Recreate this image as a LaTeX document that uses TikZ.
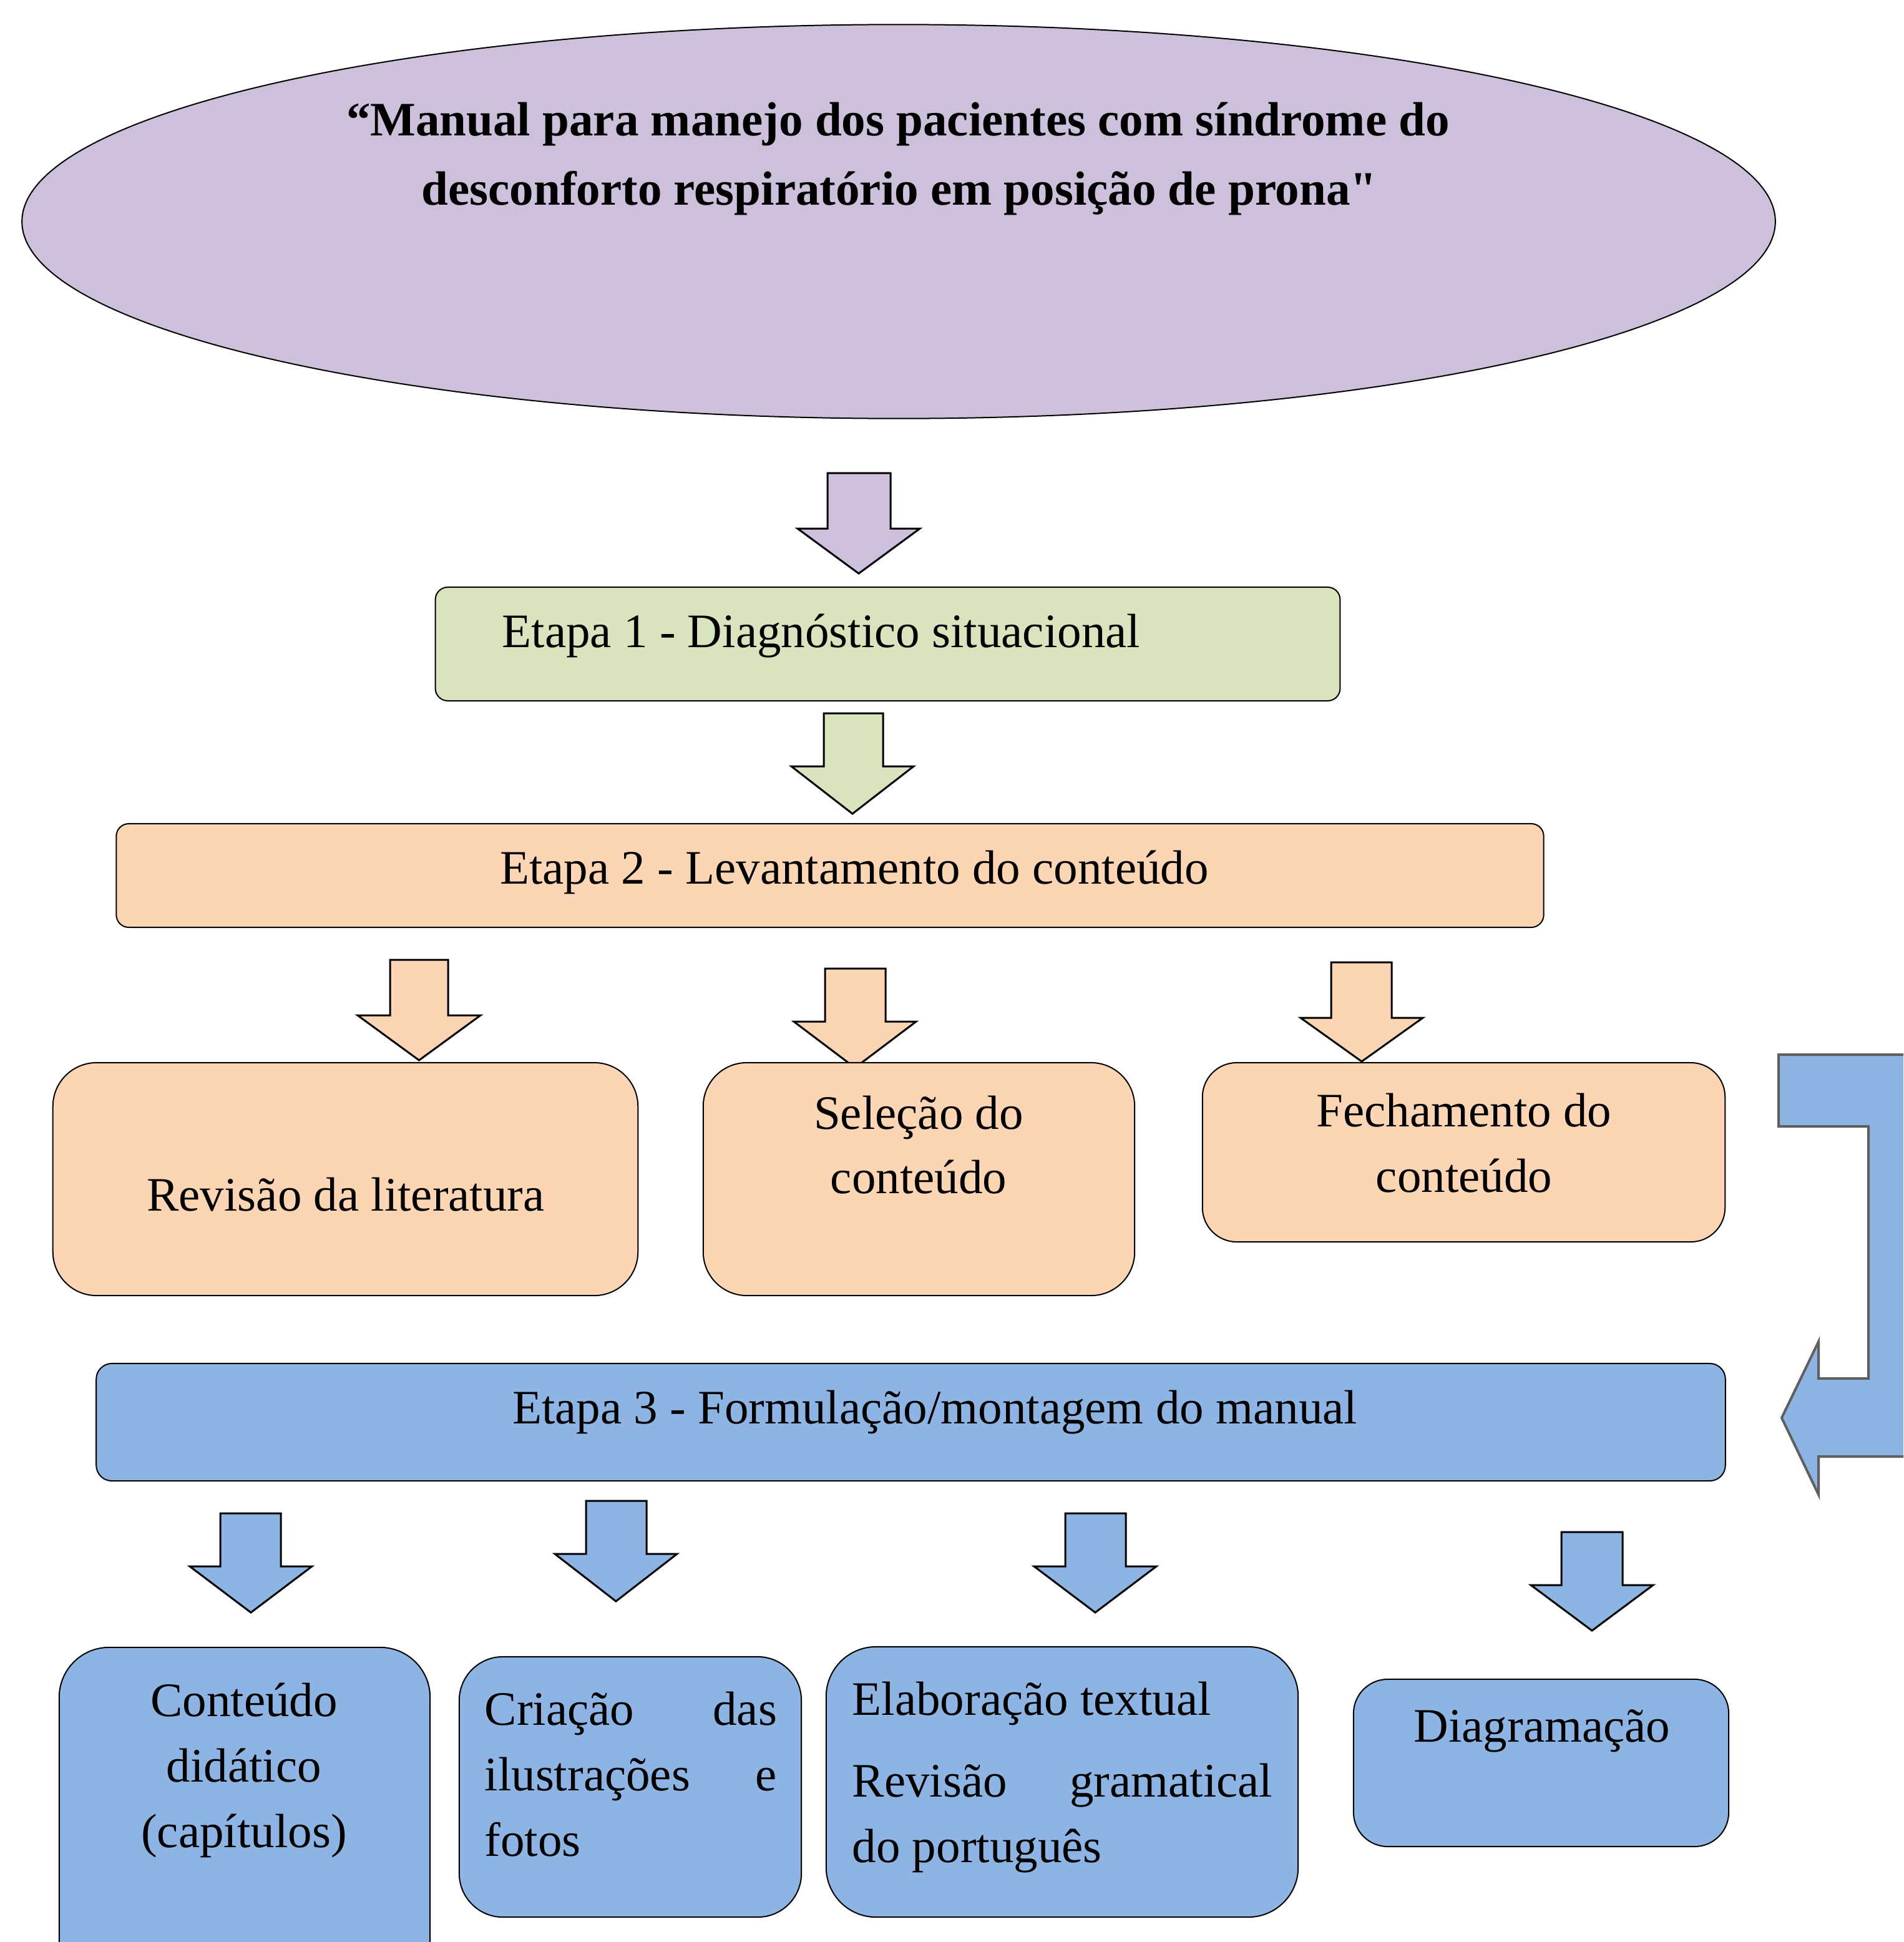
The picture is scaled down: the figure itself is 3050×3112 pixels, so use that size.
\documentclass[tikz,border=0pt]{standalone}
\usepackage{fontspec}
\setmainfont{Liberation Serif}
\usetikzlibrary{shapes.geometric}
\definecolor{purp}{HTML}{CCC0DA}
\definecolor{grn}{HTML}{D7E4BD}
\definecolor{peach}{HTML}{FCD5B5}
\definecolor{blu}{HTML}{8EB4E3}
\definecolor{grayline}{HTML}{5F5F5F}
\newcommand\DArrow[8]{\draw[arrowline, fill=#1] (#4,#6) -- (#5,#6) -- (#5,#7) -- (#3,#7) -- ({(#2+#3)/2},#8) -- (#2,#7) -- (#4,#7) -- cycle;}
\newcommand\straightdq{{\XeTeXglyph\XeTeXcharglyph"22\relax}}
\begin{document}
\begin{tikzpicture}[x=0.01cm,y=-0.01cm,
  box/.style={draw=black, line width=0.02cm, inner sep=0pt},
  arrowline/.style={draw=black, line width=0.03cm, line join=miter},
  txt/.style={inner sep=0pt, font=\fontsize{21.9pt}{29.9pt}\selectfont},
  ttl/.style={inner sep=0pt, font=\fontsize{21.9pt}{29.9pt}\selectfont\bfseries}]
\useasboundingbox (0,0) rectangle (3050,3112);
\clip (0,0) rectangle (3050,3112);
\fill[white] (0,0) rectangle (3050,3112);

% title ellipse
\node[ellipse, box, fill=purp, minimum width=28.08cm, minimum height=6.31cm] (title) at (1440,355) {};
\node[ttl, anchor=base] (t1) at (1439,218) {“Manual para manejo dos pacientes com síndrome do};
\node[ttl, anchor=base] (t2) at (1441,328) {desconforto respiratório em posição de prona\straightdq};

\DArrow{purp}{1278}{1474}{1326}{1427}{758}{847}{919}

% Etapa 1
\node[box, fill=grn, rounded corners=0.2cm, minimum width=14.49cm, minimum height=1.82cm] (e1) at (1422.5,1032) {};
\node[txt, anchor=base west] (e1t) at (804,1037) {Etapa 1 - Diagnóstico situacional};

\DArrow{grn}{1268}{1464}{1320}{1415}{1143}{1228}{1304}

% Etapa 2
\node[box, fill=peach, rounded corners=0.2cm, minimum width=22.86cm, minimum height=1.66cm] (e2) at (1330,1403) {};
\node[txt, anchor=base] (e2t) at (1369,1416) {Etapa 2 - Levantamento do conteúdo};

\DArrow{peach}{573}{770}{625}{718}{1538}{1627}{1699}
\DArrow{peach}{1272}{1468}{1322}{1419}{1552}{1637}{1711}
\DArrow{peach}{2084}{2280}{2133}{2230}{1542}{1631}{1701}

\node[box, fill=peach, rounded corners=0.7cm, minimum width=9.37cm, minimum height=3.73cm] (rev) at (553.5,1889.5) {};
\node[txt, anchor=base] (revt) at (554,1940) {Revisão da literatura};

\node[box, fill=peach, rounded corners=0.7cm, minimum width=6.91cm, minimum height=3.73cm] (sel) at (1472.5,1889.5) {};
\node[txt, anchor=base] (selt1) at (1472,1809) {Seleção do};
\node[txt, anchor=base] (selt2) at (1472,1912) {conteúdo};

\node[box, fill=peach, rounded corners=0.55cm, minimum width=8.37cm, minimum height=2.87cm] (fec) at (2345.5,1846.5) {};
\node[txt, anchor=base] (fect1) at (2346,1805) {Fechamento do};
\node[txt, anchor=base] (fect2) at (2346,1910) {conteúdo};

% bent arrow on the right
\draw[line width=0.04cm, draw=grayline, fill=blu, line join=miter] (3120,1690) -- (2850,1690) -- (2850,1805) -- (2994,1805) -- (2994,2209) -- (2914,2209) -- (2914,2150) -- (2855,2272) -- (2914,2395) -- (2914,2334) -- (3120,2334) -- cycle;

% Etapa 3
\node[box, fill=blu, rounded corners=0.25cm, minimum width=26.09cm, minimum height=1.88cm] (e3) at (1459.5,2279) {};
\node[txt, anchor=base] (e3t) at (1498,2281) {Etapa 3 - Formulação/montagem do manual};

\DArrow{blu}{304}{500}{353}{450}{2425}{2510}{2584}
\DArrow{blu}{889}{1085}{939}{1036}{2405}{2490}{2566}
\DArrow{blu}{1657}{1853}{1707}{1804}{2425}{2510}{2584}
\DArrow{blu}{2453}{2649}{2502}{2600}{2455}{2540}{2613}

\node[box, fill=blu, rounded corners=0.8cm, minimum width=5.94cm, minimum height=5.6cm] (cont) at (392,2920) {};
\node[txt, anchor=base] (ct1) at (391,2750) {Conteúdo};
\node[txt, anchor=base] (ct2) at (391,2855) {didático};
\node[txt, anchor=base] (ct3) at (391,2960) {(capítulos)};

\node[box, fill=blu, rounded corners=0.7cm, minimum width=5.48cm, minimum height=4.17cm] (cri) at (1010,2863.5) {};
\node[txt, anchor=base west] (cr1) at (776,2764) {\hbox to 4.68cm{Criação\hfill das}};
\node[txt, anchor=base west] (cr2) at (776,2869) {\hbox to 4.68cm{ilustrações\hfill e}};
\node[txt, anchor=base west] (cr3) at (776,2974) {fotos};

\node[box, fill=blu, rounded corners=0.8cm, minimum width=7.56cm, minimum height=4.33cm] (ela) at (1702,2855.5) {};
\node[txt, anchor=base west] (el1) at (1365,2748) {Elaboração textual};
\node[txt, anchor=base west] (el2) at (1365,2879) {\hbox to 6.73cm{Revisão\hfill gramatical}};
\node[txt, anchor=base west] (el3) at (1365,2984) {do português};

\node[box, fill=blu, rounded corners=0.55cm, minimum width=6.01cm, minimum height=2.68cm] (dia) at (2469.5,2825) {};
\node[txt, anchor=base] (dit) at (2471,2791) {Diagramação};
\end{tikzpicture}
\end{document}
